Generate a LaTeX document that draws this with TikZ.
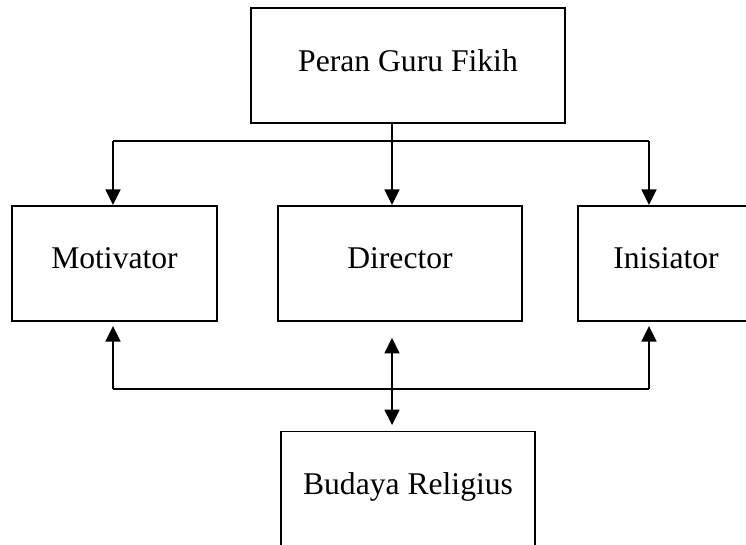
\documentclass[tikz,border=0pt]{standalone}
\usepackage{fontspec}
\setmainfont{Liberation Serif}
\usetikzlibrary{arrows.meta}

\begin{document}
\begin{tikzpicture}[
    x=0.02cm, y=-0.02cm,
    font=\fontsize{18}{21}\selectfont,
    box/.style={draw, line width=1.1pt, minimum height=2.3cm, minimum width=#1,
                inner sep=0pt, text depth=0.2cm},
    arr/.style={-{Triangle[length=0.31cm, width=0.3cm]}},
    line width=1pt
]
    \clip (0,0) rectangle (746,544);

    % Boxes
    \node[box=6.28cm] (peran)     at (408, 65.5)  {Peran Guru Fikih};
    \node[box=4.1cm]  (motivator) at (114.5, 263.3) {Motivator};
    \node[box=4.88cm] (director)  at (400, 263.3) {Director};
    \node[box=3.52cm] (inisiator) at (666, 263.3) {Inisiator};
    \node[box=5.08cm] (budaya)    at (408, 489)   {Budaya Religius};

    % Junctions
    \coordinate (top_l) at (113, 141);
    \coordinate (top_m) at (392, 141);
    \coordinate (top_r) at (649, 141);
    \coordinate (bot_l) at (113, 389);
    \coordinate (bot_m) at (392, 389);
    \coordinate (bot_r) at (649, 389);

    % Upper branches
    \draw (top_l) -- (top_r);
    \draw[arr] (peran.south -| top_m) -- (director.north -| top_m);
    \draw[arr] (top_l) -- (motivator.north -| top_l);
    \draw[arr] (top_r) -- (inisiator.north -| top_r);

    % Lower branches
    \draw (bot_l) -- (bot_r);
    \draw[arr, shorten >=2.5pt] (bot_l) -- (motivator.south -| bot_l);
    \draw[arr, shorten >=2.5pt] (bot_r) -- (inisiator.south -| bot_r);
    \draw[{Triangle[length=0.31cm, width=0.3cm]}-{Triangle[length=0.31cm, width=0.3cm]},
          shorten <=0.32cm, shorten >=0.11cm] (director.south -| bot_m) -- (budaya.north -| bot_m);

\end{tikzpicture}
\end{document}
